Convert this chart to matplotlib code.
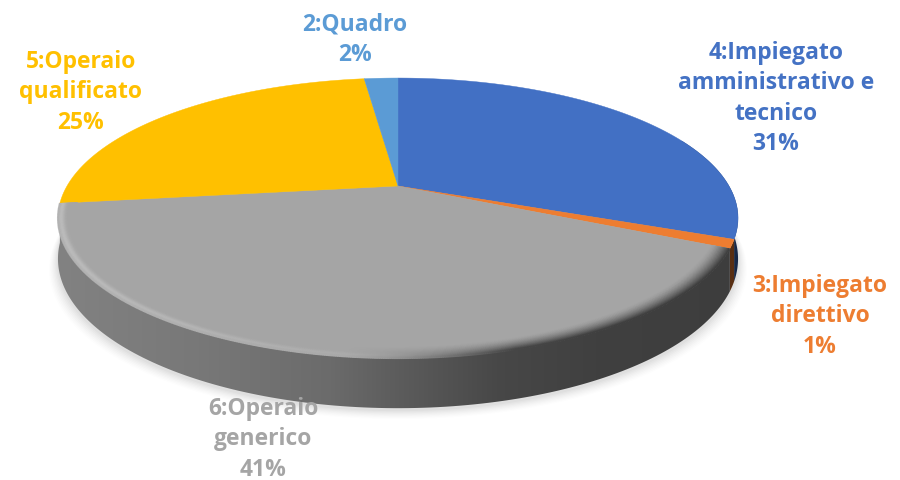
import numpy as np
from matplotlib import pyplot as plt
from matplotlib.collections import LineCollection
from matplotlib.colors import to_rgb
from matplotlib.patches import Polygon

plt.rcParams['font.family'] = ['Open Sans', 'DejaVu Sans']

# categorie e percentuali, in senso orario da ore 12
categories = ['4:Impiegato\namministrativo e\ntecnico', '3:Impiegato\ndirettivo',
              '6:Operaio\ngenerico', '5:Operaio\nqualificato', '2:Quadro']
values = [31, 1, 41, 25, 2]
colors = ['#4270c4', '#ed7d31', '#a5a5a5', '#ffc000', '#5b9bd5']
label_colors = ['#4472c4', '#ed7d31', '#a5a5a5', '#ffc000', '#5b9bd5']
wall_base = ['#3f6cc0', '#ed7d31', '#a5a5a5', '#ffc000', '#5b9bd5']

# centro della prima riga di ogni etichetta, in pixel
label_pos = [(776, 53), (820, 286), (263, 409), (81, 62), (355, 25)]

cx, cy = 398, 186
R, S, K = 331, 132.7, 0.229   # prospettiva del disco
H = 38.6                      # altezza della torta


def project(angle, r=1.0):
    # angolo in senso orario da ore 12 -> pixel
    u = r * np.sin(angle)
    v = r * np.cos(angle)
    w = 1 + K * v
    return cx + R * u / w, cy - S * v / w, w


def wall_shade(x):
    # livello di grigio della parete: chiaro a sinistra, scuro a destra
    return np.interp(x, [55, 200, 330, 400, 500, 600, 745],
                     [0.51, 0.47, 0.42, 0.36, 0.28, 0.25, 0.24])


fig = plt.figure(figsize=(9, 4.8), dpi=100)
ax = fig.add_axes([0, 0, 1, 1])
ax.set_xlim(0, 900)
ax.set_ylim(480, 0)
ax.axis('off')

edges = np.cumsum([0] + values) / sum(values) * 2 * np.pi
starts, ends = edges[:-1], edges[1:]

# ombra morbida sotto la torta
t = np.linspace(0, 2 * np.pi, 300)
xs, ys, ws = project(t)
for grow, alpha in zip(np.linspace(9, 1, 8), np.linspace(0.008, 0.022, 8)):
    sx = cx + (xs - cx) * (1 + grow / 340)
    sy = ys + H / ws + 2 + grow
    ax.fill(sx, sy, color='black', alpha=alpha, lw=0, zorder=1)

# parete laterale: solo la parte davanti
xg = 40 + np.linspace(0, 1, 400)[None, :] * 720
for a0, a1, base in zip(starts, ends, wall_base):
    lo, hi = max(a0, np.pi * 0.38), min(a1, ends[2])
    if hi <= lo:
        continue
    ang = np.linspace(lo, hi, 150)
    x, y, w = project(ang)
    poly = np.r_[np.c_[x, y], np.c_[x[::-1], (y + H / w)[::-1]]]
    img = (wall_shade(xg)[..., None] / 0.647 * np.array(to_rgb(base))).clip(0, 1)
    im = ax.imshow(img, extent=(40, 760, 480, 0), aspect='auto', zorder=2,
                   interpolation='bilinear')
    clip = Polygon(poly, transform=ax.transData, fc='none', ec='none')
    ax.add_patch(clip)
    im.set_clip_path(clip)
ax.set_xlim(0, 900)
ax.set_ylim(480, 0)

# piano superiore
for a0, a1, col in zip(starts, ends, colors):
    ang = np.linspace(a0, a1, 200)
    x, y, w = project(ang)
    ax.fill(np.r_[cx, x], np.r_[cy, y], color=col, lw=0.3, ec=col, zorder=3)

# bordo smussato della fetta grigia
ang = np.linspace(starts[2], ends[2], 500)
gray = np.array(to_rgb(colors[2]))
for r in np.linspace(0.95, 1.0, 24):
    x, y, w = project(ang, r)
    xt = np.clip((x - 60) / 680, 0, 1)
    pos = (r - 0.95) / 0.05
    dark = np.clip((xt - 0.42) / 0.25, 0, 1) * pos ** 1.5
    light = np.clip(1 - xt / 0.6, 0, 1) * np.exp(-((pos - 0.85) / 0.2) ** 2)
    edge = wall_shade(x)[:, None] * np.ones(3)
    c = gray * (1 - dark[:, None]) + edge * dark[:, None]
    c = c + (0.80 - c) * light[:, None] * 0.6
    segs = np.stack([np.c_[x[:-1], y[:-1]], np.c_[x[1:], y[1:]]], axis=1)
    ax.add_collection(LineCollection(segs, colors=c[:-1], linewidths=1.4, zorder=4))

# etichette
for name, val, col, (lx, ly) in zip(categories, values, label_colors, label_pos):
    rows = name.split('\n') + [f'{val}%']
    for i, row in enumerate(rows):
        ax.text(lx, ly + i * 30.3, row, color=col, fontsize=16.5, fontweight='bold',
                ha='center', va='center', zorder=5)

fig.savefig('out.png', dpi=100)
